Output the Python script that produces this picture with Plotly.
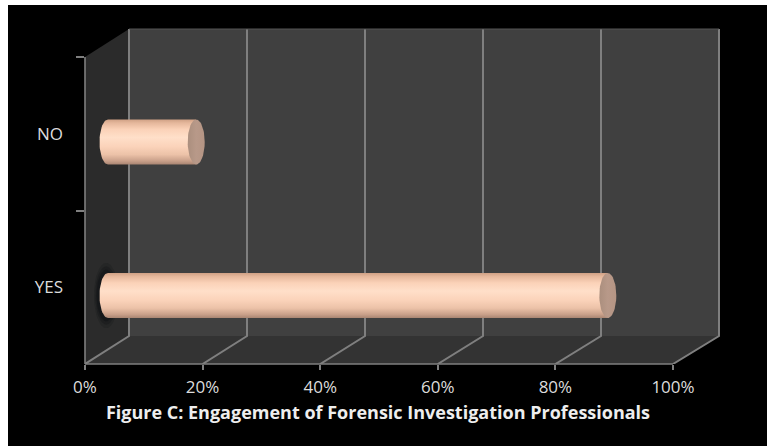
import numpy as np
import plotly.graph_objects as go

# Chart content
categories = ["YES", "NO"]
percent_values = [85, 15]
percent_ticks = [0, 20, 40, 60, 80, 100]
percent_labels = ["0%", "20%", "40%", "60%", "80%", "100%"]
title_text = "Figure C: Engagement of Forensic Investigation Professionals"

W, H = 767, 446
PLOT_L, PLOT_R, PLOT_T, PLOT_B = 85, 673, 57, 364
DEPTH_PX_X, DEPTH_PX_Y = 44, 28
BACK_STRETCH = 590 / 588

# Size of one axis unit in pixels, used to express the 3D depth in data units
PX_X = (PLOT_R - PLOT_L) / 100
PX_Y = (PLOT_B - PLOT_T) / 2
DEPTH_X = DEPTH_PX_X / PX_X
DEPTH_Y = DEPTH_PX_Y / PX_Y
X_MAX = DEPTH_X + 100 * BACK_STRETCH + 0.5
Y_MAX = 1.5 + DEPTH_Y + 0.01

WALL_BACK = "#404040"
WALL_FLOOR = "#333333"
WALL_SIDE = "#2b2b2b"
EDGE = "#7f7f7f"
TEXT = "#dcdcdc"

fig = go.Figure()


def back_x(t):
    return DEPTH_X + t * BACK_STRETCH


def polygon(xs, ys, fill):
    fig.add_trace(go.Scatter(x=xs, y=ys, mode="lines", fill="toself", fillcolor=fill,
                             line=dict(width=0), hoverinfo="skip", showlegend=False,
                             xaxis="x", yaxis="y"))


def segment(xs, ys, width=2, color=EDGE):
    fig.add_trace(go.Scatter(x=xs, y=ys, mode="lines", line=dict(color=color, width=width),
                             hoverinfo="skip", showlegend=False, xaxis="x", yaxis="y"))


# Box walls: side, floor and back
floor_y = -0.5 + DEPTH_Y
top_y = 1.5 + DEPTH_Y
polygon([0, back_x(0), back_x(0), 0, 0], [-0.5, floor_y, top_y, 1.5, -0.5], WALL_SIDE)
polygon([0, 100, back_x(100), back_x(0), 0], [-0.5, -0.5, floor_y, floor_y, -0.5], WALL_FLOOR)
polygon([back_x(0), back_x(100), back_x(100), back_x(0), back_x(0)],
        [floor_y, floor_y, top_y, top_y, floor_y], WALL_BACK)

# Gridlines run across the floor and up the back wall
for t in percent_ticks:
    segment([t, back_x(t), back_x(t)], [-0.5, floor_y, top_y])
segment([back_x(0), back_x(100)], [top_y, top_y], width=1, color="#555555")

# Cylinders sit partway into the depth of the box
BASE_X = 23 / PX_X
CENTER_SHIFT = -8.25 / PX_Y
RADIUS_Y = 22.5 / PX_Y
RADIUS_X = 8.5 / PX_X
theta = np.linspace(0, 2 * np.pi, 61)
half = np.linspace(np.pi / 2, 3 * np.pi / 2, 31)
# Colorscale runs from the bottom of the cylinder to its top
BODY_SCALE = [
    [0.00, "#a98572"], [0.08, "#c9a08a"], [0.22, "#ecc2a8"], [0.40, "#fbd3ba"],
    [0.60, "#ffdfc9"], [0.78, "#fbd2b8"], [0.92, "#e6b89c"], [1.00, "#d0a185"],
]

# Soft dark shadow behind the left end of the long cylinder
yes_y = categories.index("YES") + CENTER_SHIFT
for grow, alpha in [(1.45, 0.16), (1.3, 0.22), (1.15, 0.3)]:
    polygon(BASE_X + RADIUS_X * grow * np.cos(theta) - 0.3,
            yes_y + RADIUS_Y * grow * np.sin(theta),
            f"rgba(8,10,14,{alpha})")

for i, value in enumerate(percent_values):
    yc = i + CENTER_SHIFT
    end_x = BASE_X + value
    xs = np.concatenate([BASE_X + RADIUS_X * np.cos(half), [end_x, end_x]])
    ys = np.concatenate([yc + RADIUS_Y * np.sin(half), [yc - RADIUS_Y, yc + RADIUS_Y]])
    fig.add_trace(go.Scatter(
        x=xs, y=ys, mode="lines", fill="toself", line=dict(width=0),
        fillgradient=dict(type="vertical", colorscale=BODY_SCALE),
        hoverinfo="skip", showlegend=False, xaxis="x", yaxis="y"))
    # Flat end face of the cylinder
    fig.add_trace(go.Scatter(
        x=end_x + RADIUS_X * np.cos(theta), y=yc + RADIUS_Y * np.sin(theta),
        mode="lines", fill="toself", line=dict(width=0),
        fillgradient=dict(type="horizontal",
                          colorscale=[[0, "#ab8f7e"], [0.5, "#b89989"], [1, "#b59584"]]),
        hoverinfo="skip", showlegend=False, xaxis="x", yaxis="y"))

# Invisible bars give the category axis its labels and boundary ticks
fig.add_trace(go.Bar(x=percent_values, y=categories, orientation="h", yaxis="y2", xaxis="x",
                     marker=dict(color="rgba(0,0,0,0)", line=dict(width=0)),
                     hoverinfo="skip", showlegend=False))

domain_bottom = 1 - PLOT_B / H
domain_y = [domain_bottom, 1 - (PLOT_B - (Y_MAX + 0.5) * PX_Y) / H]
axis_top_paper = 1 - PLOT_T / H
fig.update_layout(
    width=W, height=H, margin=dict(l=0, r=0, t=0, b=0), autosize=False,
    paper_bgcolor="#ffffff", plot_bgcolor="rgba(0,0,0,0)",
    font=dict(family="Open Sans", color=TEXT),
    title=dict(text=f"<b>{title_text}</b>", x=378 / W, y=1 - 413 / H, xanchor="center",
               yanchor="middle", xref="paper", yref="paper",
               font=dict(family="Open Sans", size=18, color="#eeeeee")),
    xaxis=dict(domain=[PLOT_L / W, (PLOT_L + X_MAX * PX_X) / W], range=[0, X_MAX],
               tickvals=percent_ticks, ticktext=percent_labels, ticks="outside", ticklen=5,
               tickwidth=1.5, tickcolor=EDGE, showline=False, showgrid=False, zeroline=False,
               tickfont=dict(size=17, color=TEXT), ticklabelstandoff=3, anchor="y",
               automargin=False),
    yaxis=dict(domain=domain_y, range=[-0.5, Y_MAX], visible=False, fixedrange=True,
               automargin=False),
    yaxis2=dict(overlaying="y", type="category", categoryorder="array",
                categoryarray=categories, range=[-0.5, Y_MAX], tickson="boundaries",
                ticks="outside", ticklen=8, tickwidth=1.5, tickcolor=EDGE, showline=False,
                showgrid=False, zeroline=False, tickfont=dict(size=17, color=TEXT),
                ticklabelstandoff=21, anchor="x", automargin=False),
    shapes=[
        dict(type="rect", xref="paper", yref="paper", x0=8 / W, x1=1, y0=0, y1=1 - 5 / H,
             fillcolor="#000000", line=dict(width=0), layer="below"),
        # Front edges of the box, kept to the 0-100 span of the value axis
        dict(type="line", xref="x", yref="paper", x0=0, x1=100, y0=domain_bottom,
             y1=domain_bottom, line=dict(color=EDGE, width=1.6)),
        dict(type="line", xref="paper", yref="paper", x0=PLOT_L / W, x1=PLOT_L / W,
             y0=domain_bottom, y1=axis_top_paper, line=dict(color=EDGE, width=1.6)),
    ],
)

fig.write_html("out.html", config=dict(displayModeBar=False))
